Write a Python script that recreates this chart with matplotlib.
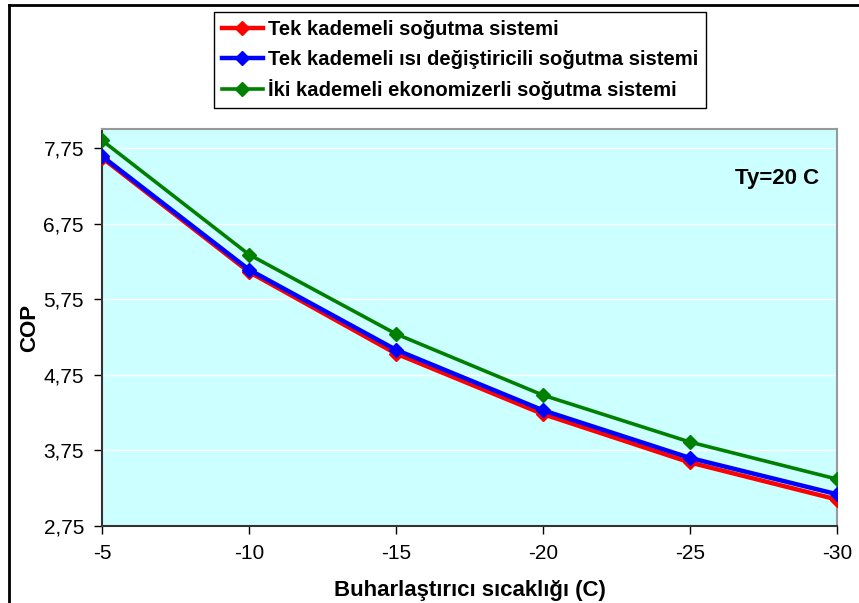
import matplotlib
matplotlib.use('Agg')
import matplotlib.pyplot as plt
from matplotlib.lines import Line2D

plt.rcParams['font.family'] = ['Liberation Sans', 'DejaVu Sans']

# evaporator temperatures (C)
temps = ['-5', '-10', '-15', '-20', '-25', '-30']
tek = [7.62, 6.11, 5.03, 4.23, 3.59, 3.10]
tek_isi = [7.64, 6.14, 5.08, 4.28, 3.65, 3.17]
iki_eko = [7.85, 6.34, 5.29, 4.48, 3.86, 3.37]
labels = ['Tek kademeli soğutma sistemi',
          'Tek kademeli ısı değiştiricili soğutma sistemi',
          'İki kademeli ekonomizerli soğutma sistemi']
yticks = [2.75, 3.75, 4.75, 5.75, 6.75, 7.75]

fig = plt.figure(figsize=(8.59, 6.03), dpi=100)
ax = fig.add_axes([102/859, 1-526/603, (837-102)/859, (526-129)/603])
ax.set_facecolor('#CCFFFF')

x = list(range(len(temps)))
ax.plot(x, tek, color='#FF0000', lw=3.2, marker='D', ms=7, label=labels[0], zorder=3)
ax.plot(x, tek_isi, color='#0000FF', lw=3.2, marker='D', ms=7, label=labels[1], zorder=4)
ax.plot(x, iki_eko, color='#008000', lw=2.6, marker='D', ms=7, label=labels[2], zorder=5)

ax.set_xlim(0, len(temps)-1)
ax.set_ylim(2.75, 8.0)
ax.set_xticks(x)
ax.set_xticklabels(temps)
ax.set_yticks(yticks)
ax.set_yticklabels([('%.2f' % v).replace('.', ',') for v in yticks])
ax.tick_params(labelsize=15, length=6, width=1, direction='out', pad=7)
ax.grid(axis='y', color='white', lw=1)
ax.set_axisbelow(True)
for s in ['top', 'right']:
    ax.spines[s].set_color('#999999')
    ax.spines[s].set_linewidth(1.5)
for s in ['left', 'bottom']:
    ax.spines[s].set_color('#333333')
    ax.spines[s].set_linewidth(1.5)

ax.set_xlabel('Buharlaştırıcı sıcaklığı (C)', fontsize=16, fontweight='bold', labelpad=12)
ax.set_ylabel('COP', fontsize=16, fontweight='bold')
ax.yaxis.set_label_coords(-0.084, 0.5)
ax.text(0.976, 0.875, 'Ty=20 C', transform=ax.transAxes, ha='right', va='center',
        fontsize=16, fontweight='bold')

leg = fig.legend(loc='upper left', bbox_to_anchor=(214/859, 1-12/603),
                 bbox_transform=fig.transFigure, borderaxespad=0, fancybox=False,
                 shadow=False, framealpha=1, edgecolor='black', handlelength=2.0,
                 handletextpad=0.25, labelspacing=0.52, borderpad=0.4,
                 prop={'weight': 'bold', 'size': 14.6})
leg.get_frame().set_linewidth(1)

# outer chart border (cut off on the right and bottom)
fig.add_artist(Line2D([9/859, 9/859], [0, 1-5/603], color='black', lw=2))
fig.add_artist(Line2D([9/859, 1], [1-5/603, 1-5/603], color='black', lw=2))

fig.savefig('out.png', dpi=100)
